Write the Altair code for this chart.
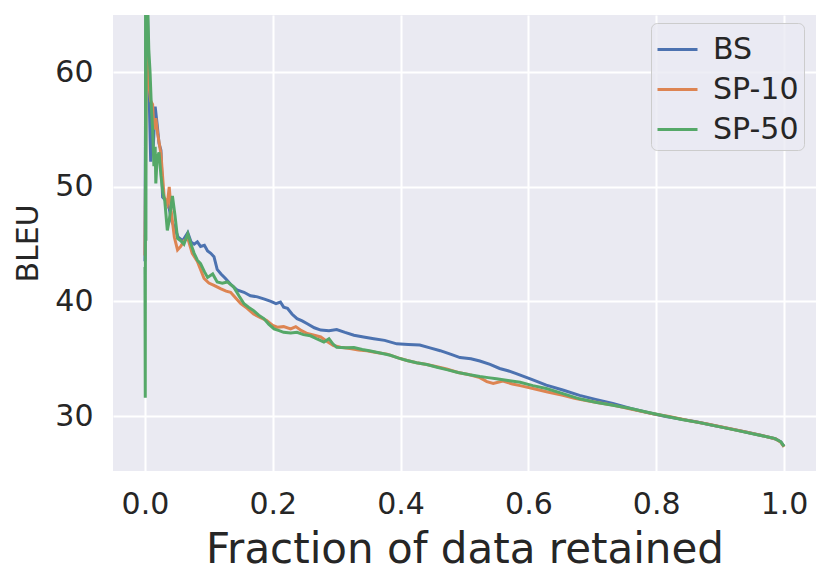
import altair as alt
import pandas as pd

series_names = ["BS", "SP-10", "SP-50"]
series_colors = ["#4C72B0", "#DD8452", "#55A868"]

bs_x = [0.000, 0.001, 0.002, 0.003, 0.005, 0.007, 0.009, 0.011, 0.013, 0.016, 0.019, 0.022,
        0.025, 0.0276, 0.033, 0.038, 0.042, 0.046, 0.052, 0.059, 0.067, 0.072, 0.077, 0.082,
        0.087, 0.093, 0.098, 0.103, 0.108, 0.113, 0.119, 0.126, 0.134, 0.144, 0.155, 0.165,
        0.176, 0.187, 0.197, 0.205, 0.212, 0.217, 0.223, 0.230, 0.238, 0.246, 0.254, 0.265,
        0.275, 0.288, 0.300, 0.313, 0.327, 0.342, 0.358, 0.375, 0.394, 0.412, 0.430, 0.446,
        0.462, 0.478, 0.493, 0.510, 0.524, 0.540, 0.555, 0.568, 0.581, 0.605, 0.628, 0.655,
        0.680, 0.705, 0.732, 0.760, 0.795, 0.815, 0.836, 0.862, 0.888, 0.915, 0.940, 0.965,
        0.987, 0.995, 1.000]
bs_y = [43.5, 58.0, 67.0, 68.0, 62.0, 57.0, 52.2, 56.0, 53.5, 57.0, 55.5, 53.8,
        53.2, 49.1, 48.8, 48.1, 47.0, 46.5, 45.6, 45.3, 46.0, 45.2, 45.0, 45.2,
        44.8, 44.9, 44.4, 44.2, 43.9, 42.8, 42.4, 42.0, 41.5, 41.0, 40.8, 40.5,
        40.4, 40.2, 40.0, 39.8, 39.95, 39.5, 39.4, 38.9, 38.5, 38.3, 38.05, 37.7,
        37.5, 37.45, 37.55, 37.3, 37.05, 36.9, 36.75, 36.6, 36.3, 36.25, 36.2, 35.95,
        35.7, 35.4, 35.1, 35.0, 34.8, 34.5, 34.15, 33.95, 33.7, 33.2, 32.7, 32.25,
        31.8, 31.45, 31.1, 30.65, 30.2, 29.95, 29.75, 29.5, 29.2, 28.9, 28.6, 28.3,
        28.0, 27.75, 27.35]

sp10_x = [0.000, 0.001, 0.002, 0.0035, 0.005, 0.007, 0.009, 0.012, 0.014, 0.017, 0.020, 0.025,
          0.030, 0.035, 0.038, 0.041, 0.046, 0.051, 0.056, 0.061, 0.067, 0.074, 0.082, 0.0925,
          0.100, 0.108, 0.119, 0.127, 0.134, 0.142, 0.150, 0.160, 0.170, 0.180, 0.190, 0.200,
          0.207, 0.217, 0.228, 0.236, 0.245, 0.254, 0.265, 0.275, 0.285, 0.295, 0.306, 0.321,
          0.334, 0.347, 0.362, 0.379, 0.395, 0.410, 0.425, 0.441, 0.457, 0.472, 0.490, 0.508,
          0.524, 0.535, 0.545, 0.560, 0.575, 0.587, 0.607, 0.630, 0.654, 0.672, 0.690, 0.710,
          0.732, 0.760, 0.795, 0.820, 0.850, 0.880, 0.910, 0.940, 0.965, 0.987, 0.995, 1.000]
sp10_y = [44.0, 52.0, 60.0, 63.0, 61.0, 58.5, 57.5, 57.2, 55.0, 56.0, 54.6, 52.9,
          49.1, 48.5, 50.0, 47.9, 45.6, 44.5, 44.8, 45.3, 45.5, 44.2, 43.5, 42.0,
          41.6, 41.4, 41.1, 40.9, 40.8, 40.3, 39.8, 39.4, 38.9, 38.6, 38.35, 37.9,
          37.75, 37.8, 37.6, 37.8, 37.45, 37.2, 37.05, 36.9, 36.5, 36.15, 36.0, 35.9,
          35.75, 35.7, 35.55, 35.4, 35.1, 34.85, 34.65, 34.5, 34.3, 34.1, 33.8, 33.6,
          33.35, 33.0, 32.85, 33.05, 32.8, 32.65, 32.4, 32.1, 31.8, 31.55, 31.35, 31.15,
          30.95, 30.6, 30.2, 29.95, 29.6, 29.3, 28.95, 28.6, 28.3, 28.0, 27.7, 27.3]

sp50_x = [0.000, 0.0005, 0.001, 0.0015, 0.002, 0.004, 0.006, 0.008, 0.010, 0.012, 0.014, 0.016,
          0.017, 0.019, 0.022, 0.025, 0.028, 0.031, 0.035, 0.038, 0.043, 0.047, 0.051, 0.056,
          0.061, 0.067, 0.072, 0.077, 0.082, 0.087, 0.093, 0.098, 0.106, 0.113, 0.121, 0.129,
          0.139, 0.147, 0.155, 0.162, 0.170, 0.178, 0.186, 0.194, 0.202, 0.210, 0.217, 0.228,
          0.238, 0.248, 0.259, 0.270, 0.280, 0.288, 0.294, 0.300, 0.314, 0.327, 0.340, 0.353,
          0.368, 0.384, 0.397, 0.410, 0.425, 0.441, 0.457, 0.472, 0.490, 0.508, 0.524, 0.537,
          0.550, 0.568, 0.587, 0.607, 0.628, 0.654, 0.680, 0.705, 0.732, 0.760, 0.784, 0.810,
          0.840, 0.870, 0.900, 0.930, 0.960, 0.985, 0.995, 1.000]
sp50_y = [43.0, 31.6, 66.0, 45.3, 68.0, 66.5, 62.0, 60.0, 57.0, 55.0, 51.8, 53.5,
          50.3, 52.5, 53.0, 51.0, 49.5, 48.8, 46.2, 47.1, 49.2, 47.5, 45.5, 45.3,
          45.0, 45.9, 45.0, 44.2, 43.6, 43.3, 42.6, 42.1, 42.4, 41.7, 41.6, 41.7,
          41.25, 40.5, 39.8, 39.5, 39.2, 38.8, 38.5, 38.0, 37.6, 37.45, 37.3, 37.25,
          37.3, 37.1, 37.0, 36.7, 36.45, 36.75, 36.3, 36.0, 35.95, 35.97, 35.8, 35.67,
          35.5, 35.3, 35.05, 34.85, 34.65, 34.5, 34.25, 34.05, 33.8, 33.6, 33.45, 33.35,
          33.25, 33.1, 32.95, 32.65, 32.4, 31.95, 31.5, 31.2, 30.93, 30.65, 30.35, 30.05,
          29.7, 29.4, 29.05, 28.7, 28.35, 28.05, 27.75, 27.35]

x_ticks = [0.0, 0.2, 0.4, 0.6, 0.8, 1.0]
y_ticks = [30, 40, 50, 60]

rows = []
for name, xs, ys in [("BS", bs_x, bs_y), ("SP-10", sp10_x, sp10_y), ("SP-50", sp50_x, sp50_y)]:
    for i, (xv, yv) in enumerate(zip(xs, ys)):
        rows.append({"series": name, "x": xv, "y": yv, "i": i})
df = pd.DataFrame(rows)

FONT = "DejaVu Sans"
TXT = "#262626"

chart = alt.Chart(df).mark_line(strokeWidth=3, clip=True).encode(
    x=alt.X("x:Q", scale=alt.Scale(domain=[-0.05, 1.05], nice=False, zero=False),
            axis=alt.Axis(title="Fraction of data retained", values=x_ticks, format=".1f",
                          labelPadding=18, titleFontSize=42, titleY=91,
                          titleBaseline="alphabetic", titleFontWeight="normal")),
    y=alt.Y("y:Q", scale=alt.Scale(domain=[25.2, 65], nice=False, zero=False),
            axis=alt.Axis(title="BLEU", values=y_ticks, format="d", labelPadding=20,
                          titleFontSize=30, titleX=-85, titleY=228, titleAngle=270,
                          titleAlign="center", titleBaseline="middle",
                          titleFontWeight="normal")),
    color=alt.Color("series:N",
                    scale=alt.Scale(domain=series_names, range=series_colors),
                    legend=alt.Legend(orient="none", legendX=538, legendY=8, title=None,
                                      symbolType="stroke", symbolSize=1600,
                                      symbolStrokeWidth=3, labelFontSize=30,
                                      labelFont=FONT, labelColor=TXT, labelOffset=14,
                                      rowPadding=3, padding=5,
                                      fillColor="rgba(234,234,242,0.8)",
                                      strokeColor="#cccccc", cornerRadius=6,
                                      labelLimit=400)),
    order="i:Q",
).properties(
    width=703, height=456,
    background="white",
    autosize=alt.AutoSizeParams(type="none"),
    padding={"left": 105, "top": 7, "right": 5, "bottom": 100},
).configure_view(
    fill="#EAEAF2", stroke=None
).configure_axis(
    domain=False, ticks=False, tickSize=0, grid=True, gridColor="white", gridWidth=2,
    labelFont=FONT, labelFontSize=30, labelColor=TXT, titleFont=FONT, titleColor=TXT,
)

chart.save("out.html", embed_options={"renderer": "svg", "actions": False})
